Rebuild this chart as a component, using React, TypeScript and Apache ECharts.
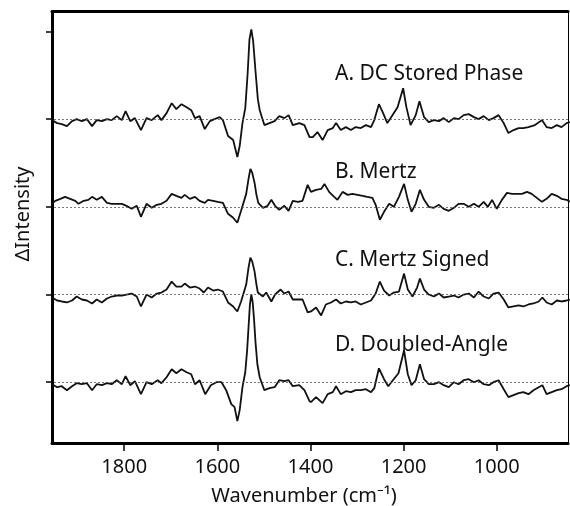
import React, { useEffect, useRef } from "react";
import * as echarts from "echarts";

// Wavenumber tick labels (cm-1)
const xTickLabels = [1800, 1600, 1400, 1200, 1000];
// Vertical offsets of the four stacked spectra (A, B, C, D) and y ticks
const baselineOffsets = [264, 176, 88, 0];
const yTicks = [0, 88, 176, 264, 352];
const spectrumNames = ["A. DC Stored Phase", "B. Mertz", "C. Mertz Signed", "D. Doubled-Angle"];
const labelY = [72, 170, 258, 343];

// [wavenumber, ΔIntensity (a.u.)]
const specA = [
  [1955, -1], [1944, -4], [1934, -5], [1923, -7], [1912, -2], [1902, 0], [1891, -2], [1880, 0], [1869, -7], [1859, -1],
  [1848, -2], [1837, 0], [1827, -1], [1816, 3], [1805, -1], [1797, 8], [1787, -2], [1777, 1], [1764, -11], [1752, 1],
  [1741, -1], [1728, 4], [1720, -1], [1709, 6], [1698, 16], [1688, 10], [1677, 15], [1666, 12], [1656, 9], [1648, 1],
  [1638, 3], [1627, -10], [1616, -2], [1606, 0], [1595, 2], [1588, -1], [1577, -17], [1566, -21], [1557, -38], [1552, -27],
  [1546, -4], [1540, 11], [1535, 45], [1531, 80], [1527, 90], [1523, 78], [1518, 48], [1513, 20], [1509, 9], [1499, -6],
  [1488, -4], [1477, -2], [1467, 3], [1456, 1], [1447, 4], [1438, -6], [1424, -4], [1413, -6], [1402, -18],
  [1395, -18], [1385, -13], [1374, -21], [1363, -11], [1352, -9], [1345, -4], [1335, -11], [1324, -8], [1313, -11], [1303, -8],
  [1292, -9], [1281, -6], [1270, -8], [1263, -1], [1253, 15], [1244, 6], [1235, -4], [1224, 4], [1213, 12], [1201, 31],
  [1194, 12], [1185, -6], [1174, 4], [1166, 18], [1156, 2], [1146, -3], [1135, -1], [1124, -2], [1114, 1], [1103, -3],
  [1092, 1], [1082, 0], [1071, 4], [1060, 5], [1049, 2], [1039, 0], [1028, 3], [1017, -1], [1007, 1], [996, 4],
  [985, -4], [975, -14], [964, -11], [953, -9], [943, -9], [932, -8], [918, -6], [903, -1], [893, -8], [882, -9],
  [871, -6], [861, -8], [850, -4], [843, -3],
];

const specB = [
  [1955, 3], [1948, 6], [1937, 8], [1927, 10], [1916, 8], [1905, 6], [1898, 3], [1887, 6], [1877, 7], [1869, 10],
  [1859, 7], [1848, 10], [1837, 4], [1827, 3], [1816, 3], [1805, 3], [1795, 1], [1784, -2], [1773, 1], [1764, -10],
  [1752, 3], [1741, -1], [1730, 2], [1720, 3], [1709, 6], [1698, 13], [1688, 11], [1677, 9], [1670, 12], [1659, 8],
  [1648, 10], [1638, 6], [1627, 4], [1620, 7], [1609, 6], [1599, 5], [1588, 4], [1577, -7], [1566, -11], [1557, -16],
  [1549, -4], [1538, 13], [1533, 28], [1529, 38], [1525, 34], [1520, 24], [1516, 12], [1512, 4], [1502, -1], [1492, 1],
  [1484, 7], [1476, 1], [1467, -3], [1456, 1], [1447, -4], [1438, 6], [1427, 5], [1417, 6], [1406, 22],
  [1399, 15], [1388, 17], [1377, 18], [1370, 23], [1360, 15], [1349, 10], [1342, 7], [1331, 15], [1320, 12], [1310, 13],
  [1299, 12], [1288, 11], [1278, 10], [1267, 9], [1260, 2], [1251, -13], [1242, -5], [1231, 3], [1221, 0], [1210, 10],
  [1199, 23], [1191, 7], [1183, -5], [1174, 3], [1165, 17], [1156, 7], [1146, 0], [1135, -1], [1124, 2], [1114, -2],
  [1103, -4], [1092, -1], [1082, 3], [1071, 3], [1060, 0], [1049, 3], [1039, 0], [1028, 5], [1019, 0], [1010, 7],
  [1000, -2], [989, 7], [978, 14], [967, 13], [957, 13], [946, 13], [935, 15], [925, 13], [914, 9], [903, 5],
  [893, 8], [882, 13], [871, 11], [861, 8], [850, 7], [843, 5],
];

const specC = [
  [1955, -3], [1944, -6], [1934, -7], [1923, -8], [1912, -6], [1902, -2], [1891, -5], [1880, -6], [1869, -9], [1859, -5],
  [1848, -8], [1837, -4], [1827, -2], [1816, -1], [1805, -1], [1795, 0], [1784, 1], [1773, -2], [1764, -12], [1752, 0],
  [1741, -3], [1730, 1], [1720, 2], [1709, 5], [1698, 13], [1688, 8], [1677, 8], [1670, 11], [1659, 7], [1648, 8],
  [1638, 6], [1629, 2], [1620, 7], [1609, 4], [1599, 5], [1588, 3], [1577, -8], [1566, -12], [1557, -17], [1549, -7],
  [1538, 10], [1533, 27], [1529, 37], [1525, 33], [1520, 23], [1516, 10], [1513, 2], [1502, -2], [1495, 2], [1484, -7],
  [1476, 0], [1464, 5], [1456, 1], [1447, 3], [1438, -5], [1427, -5], [1417, -5], [1406, -18],
  [1399, -17], [1388, -13], [1377, -21], [1367, -10], [1356, -8], [1345, -5], [1335, -9], [1324, -7], [1313, -8], [1303, -7],
  [1292, -10], [1281, -8], [1270, -6], [1260, 1], [1251, 13], [1242, 4], [1231, -1], [1221, 2], [1210, 3], [1199, 21],
  [1191, 5], [1181, -2], [1171, 7], [1165, 16], [1156, 5], [1146, 0], [1135, -2], [1124, 1], [1114, -3], [1103, -2],
  [1092, -1], [1082, -3], [1071, 0], [1060, 1], [1049, -3], [1039, 3], [1028, -2], [1017, -4], [1007, 1], [996, 2],
  [985, -5], [975, -13], [964, -12], [953, -11], [943, -12], [932, -10], [921, -9], [910, -7], [902, -3], [893, -8],
  [882, -10], [871, -6], [861, -7], [850, -6], [843, -5],
];

const specD = [
  [1955, -2], [1944, -5], [1934, -4], [1923, -8], [1912, -4], [1902, -1], [1891, -2], [1880, -1], [1869, -8], [1859, -2],
  [1848, -3], [1837, -1], [1827, -2], [1816, 2], [1805, -2], [1797, 6], [1787, -3], [1777, 1], [1764, -12], [1752, 0],
  [1741, -2], [1728, 2], [1720, -1], [1709, 5], [1698, 13], [1688, 9], [1677, 13], [1666, 10], [1656, 8], [1648, -2],
  [1638, 2], [1626, -12], [1614, -3], [1602, 0], [1591, 0], [1581, -8], [1570, -22], [1563, -25], [1557, -39], [1552, -28],
  [1546, -5], [1540, 10], [1536, 32], [1533, 55], [1530, 78], [1527, 88], [1524, 80], [1521, 62], [1518, 40], [1514, 18],
  [1509, 5], [1499, -8], [1488, -6], [1477, -5], [1467, 2], [1456, 1], [1447, 2], [1438, -4], [1424, -3], [1413, -8],
  [1402, -19],
  [1399, -20], [1388, -15], [1374, -21], [1363, -12], [1352, -10], [1345, -4], [1335, -12], [1324, -9], [1313, -10], [1303, -8],
  [1292, -8], [1281, -7], [1270, -10], [1263, -6], [1253, 14], [1242, 3], [1233, -4], [1223, 2], [1211, 9], [1199, 32],
  [1191, 8], [1183, -3], [1174, 2], [1165, 18], [1156, 3], [1146, -2], [1135, -2], [1124, 0], [1114, -3], [1103, -5],
  [1092, 0], [1082, -2], [1071, 2], [1060, 3], [1049, 0], [1039, 2], [1028, -2], [1017, -3], [1007, 0], [996, 2],
  [985, -7], [975, -15], [964, -13], [953, -11], [943, -10], [932, -12], [921, -8], [910, -5], [902, -3], [893, -12],
  [882, -10], [871, -8], [861, -7], [850, -4], [843, -3],
];

export default function App() {
  const ref = useRef<HTMLDivElement>(null);
  useEffect(() => {
    if (!ref.current) return;
    const chart = echarts.init(ref.current, null, { renderer: "svg" });
    const font = "'Noto Sans', sans-serif";
    const spectra = [specA, specB, specC, specD];
    const series = spectra.map((s, i) => ({
      type: "line",
      name: spectrumNames[i],
      symbol: "none",
      showSymbol: false,
      data: s.map(([w, v]) => [w, v + baselineOffsets[i]]),
      lineStyle: { color: "#111", width: 1.8 },
      z: 3,
      markLine: {
        silent: true,
        symbol: "none",
        label: { show: false },
        lineStyle: { color: "#555", width: 0.8, type: [2, 2] },
        data: [{ yAxis: baselineOffsets[i] }],
      },
    }));
    const axisBlack = { color: "#000" };
    chart.setOption({
      animation: false,
      grid: { left: 52, right: 2, top: 11.5, bottom: 63 },
      xAxis: [
        {
          type: "value",
          inverse: true,
          min: 847,
          max: 1955,
          position: "bottom",
          axisLine: { show: true, onZero: false, lineStyle: { ...axisBlack, width: 3 } },
          axisTick: { show: true, customValues: xTickLabels, length: 8, lineStyle: { ...axisBlack, width: 1.5 } },
          axisLabel: {
            customValues: xTickLabels,
            formatter: (v: number) => String(v),
            fontSize: 20,
            color: "#111",
            margin: 12,
            fontFamily: font,
          },
          splitLine: { show: false },
        },
        {
          type: "value",
          inverse: true,
          min: 847,
          max: 1955,
          position: "top",
          axisLine: { show: true, onZero: false, lineStyle: { ...axisBlack, width: 3 } },
          axisTick: { show: false },
          axisLabel: { show: false },
          splitLine: { show: false },
        },
      ],
      yAxis: [
        {
          type: "value",
          min: -61,
          max: 372,
          position: "left",
          axisLine: { show: true, onZero: false, lineStyle: { ...axisBlack, width: 3 } },
          axisTick: { show: true, customValues: yTicks, length: 6, lineStyle: { ...axisBlack, width: 1.5 } },
          axisLabel: { show: false },
          splitLine: { show: false },
        },
        {
          type: "value",
          min: -61,
          max: 372,
          position: "right",
          axisLine: { show: true, onZero: false, lineStyle: { ...axisBlack, width: 1 } },
          axisTick: { show: false },
          axisLabel: { show: false },
          splitLine: { show: false },
        },
      ],
      graphic: [
        ...spectrumNames.map((name, i) => ({
          type: "text",
          x: 335,
          y: labelY[i],
          style: { text: name, fontSize: 21, fontFamily: font, fill: "#111", textAlign: "left", textVerticalAlign: "middle" },
          z: 10,
        })),
        {
          type: "text",
          x: 304,
          y: 494,
          style: { text: "Wavenumber (cm⁻¹)", fontSize: 20, fontFamily: font, fill: "#111", textAlign: "center", textVerticalAlign: "middle" },
        },
        {
          type: "text",
          x: 21,
          y: 214,
          rotation: Math.PI / 2,
          style: { text: "ΔIntensity", fontSize: 20, fontFamily: font, fill: "#111", textAlign: "center", textVerticalAlign: "middle" },
        },
      ],
      series,
    });
    return () => chart.dispose();
  }, []);
  return <div ref={ref} style={{ position: "fixed", left: 0, top: 0, width: 570, height: 506 }} />;
}
